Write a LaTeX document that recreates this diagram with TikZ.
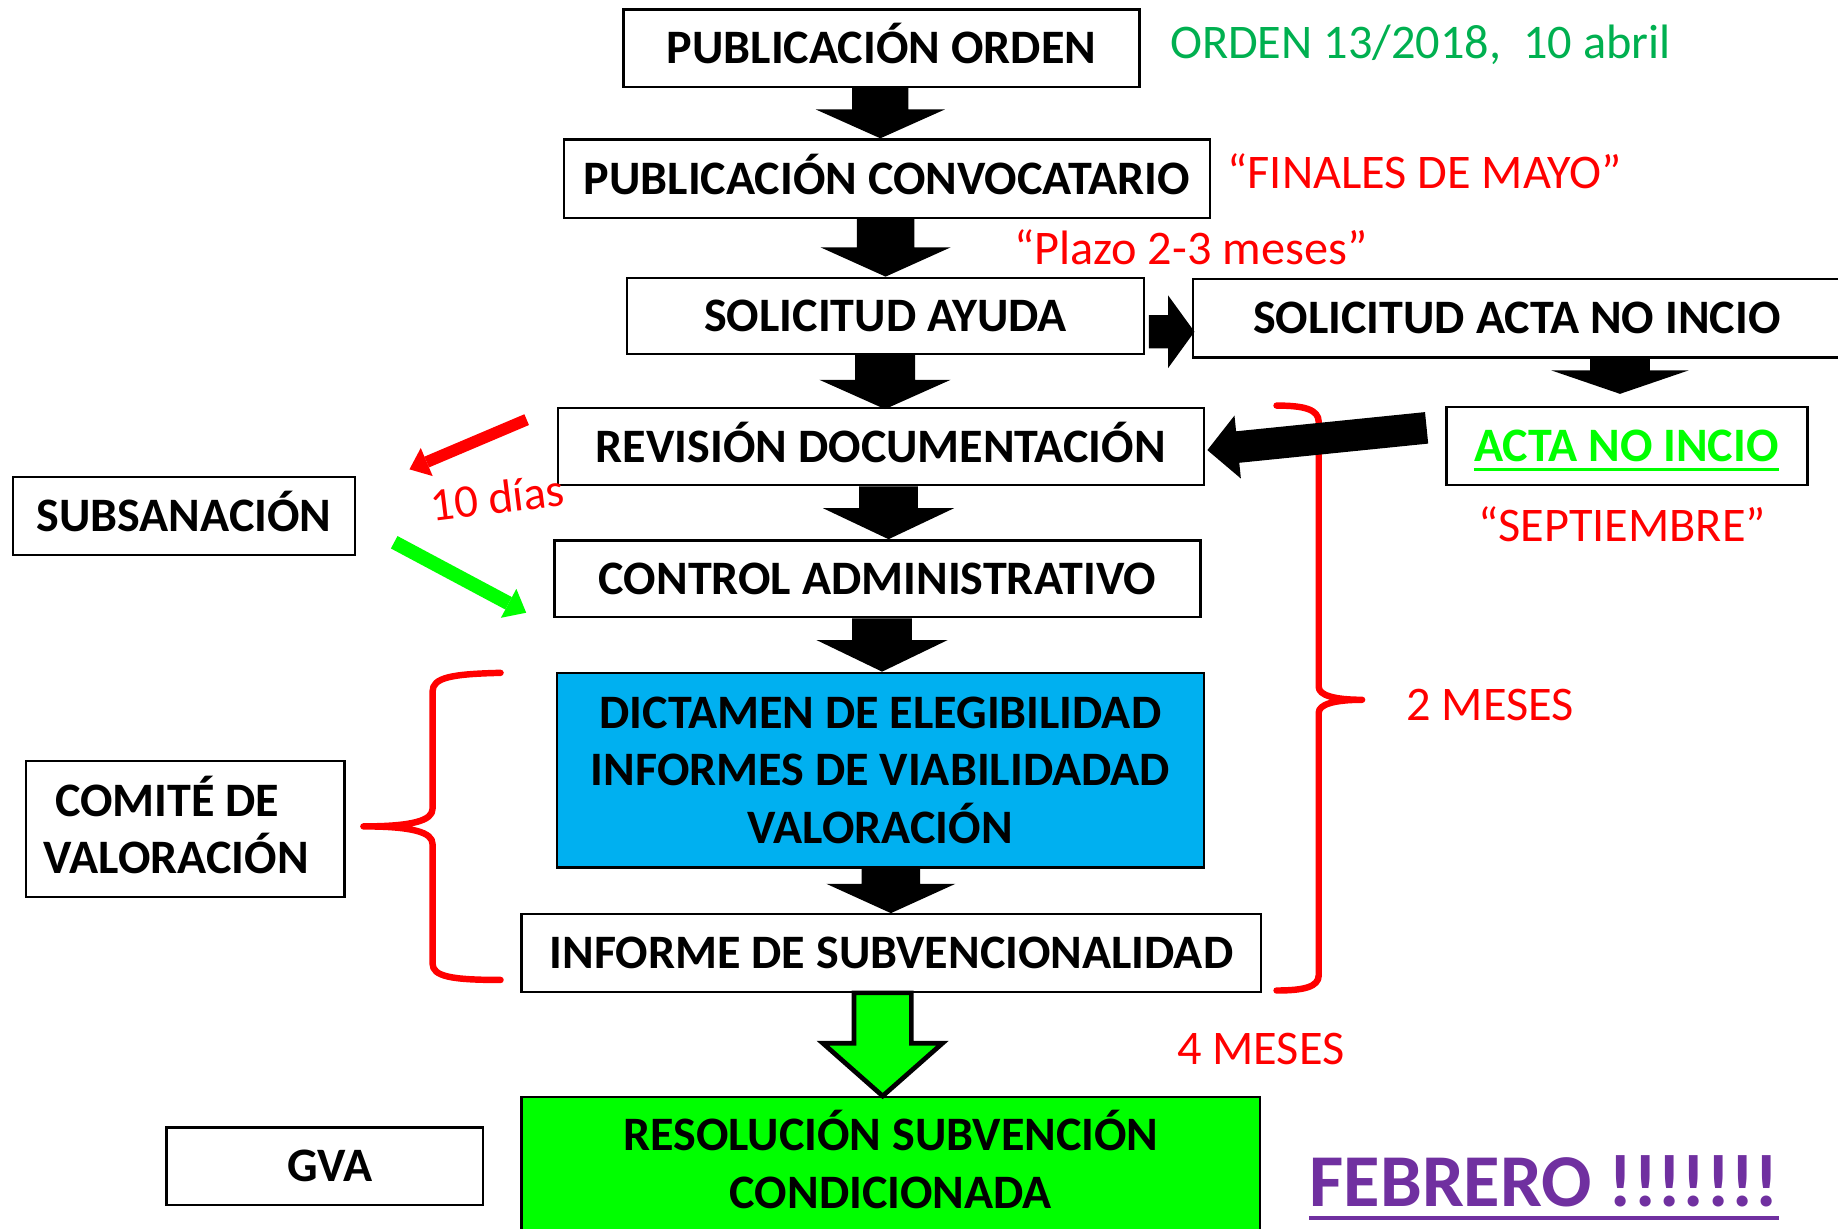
\documentclass[tikz,border=0pt]{standalone}
\usepackage{fontspec}
\setmainfont{Carlito}
\usetikzlibrary{arrows.meta,calc}
\definecolor{redT}{HTML}{FF0000}
\definecolor{greenT}{HTML}{00B050}
\definecolor{limeC}{HTML}{00FF00}
\definecolor{blueF}{HTML}{00B0F0}
\definecolor{purpleT}{HTML}{7030A0}
% vertical block arrow: #1 top coord, #2 tip coord, #3 x centre, #4 shaft half width, #5 head half width, #6 head length, #7 style
\newcommand{\blkdown}[7]{%
  \path[#7] let \p1=(#1), \p2=(#2) in
  ({#3-#4},\y1) -- ({#3+#4},\y1) -- ({#3+#4},{\y2+#6}) -- ({#3+#5},{\y2+#6})
  -- (#3,\y2) -- ({#3-#5},{\y2+#6}) -- ({#3-#4},{\y2+#6}) -- cycle;}
% horizontal block arrow: #1 left coord, #2 tip coord, #3 y centre, #4 shaft half, #5 head half, #6 head length, #7 style
\newcommand{\blkright}[7]{%
  \path[#7] let \p1=(#1), \p2=(#2) in
  (\x1,{#3+#4}) -- ({\x2-#6},{#3+#4}) -- ({\x2-#6},{#3+#5}) -- (\x2,#3)
  -- ({\x2-#6},{#3-#5}) -- ({\x2-#6},{#3-#4}) -- (\x1,{#3-#4}) -- cycle;}
\begin{document}
\begin{tikzpicture}[x=1pt,y=1pt,
  box/.style={draw=black, line width=2pt, inner sep=0pt,
    font=\fontsize{41}{49.2}\selectfont\bfseries, text height=26.4pt, text depth=0pt},
  mbox/.style={draw=black, line width=2pt, inner sep=0pt,
    font=\fontsize{41}{49.2}\selectfont\bfseries, align=center},
  btext/.style={inner sep=0pt, font=\fontsize{41}{49.2}\selectfont\bfseries},
  lbl/.style={inner sep=0pt, anchor=base west, font=\fontsize{41.2}{49}\selectfont, text=redT},
  blk/.style={fill=black},
  brace/.style={draw=redT, line width=5.5pt, line cap=round, line join=round},
]
\useasboundingbox (0,0) rectangle (1568,-1048);
\fill[white] (0,0) rectangle (1568,-1048);

% boxes
\node[box, minimum width=440pt, minimum height=66pt] (A) at (752,-41) {PUBLICACIÓN ORDEN};
\node[box, minimum width=551pt, minimum height=67pt] (B) at (756.5,-152.5) {PUBLICACIÓN CONVOCATARIO};
\node[box, minimum width=441pt, minimum height=65pt] (C) at (755.5,-269.5) {SOLICITUD AYUDA};
\node[box, minimum width=552pt, minimum height=67pt] (D) at (1294,-271.5) {SOLICITUD ACTA NO INCIO};
\node[box, minimum width=308pt, minimum height=67pt] (E) at (1388,-380.5) {};
\node[btext, text=limeC, text height=26.4pt, text depth=0pt] (Etext) at (1387.5,-380.7) {ACTA NO INCIO};
\draw[limeC, line width=2.8pt] ([yshift=-6.4pt]Etext.base west) -- ([yshift=-6.4pt]Etext.base east);
\node[box, minimum width=551pt, minimum height=66pt] (F) at (751.5,-381) {REVISIÓN DOCUMENTACIÓN};
\node[box, minimum width=292pt, minimum height=66.5pt] (G) at (157,-440.25) {SUBSANACIÓN};
\node[box, minimum width=551pt, minimum height=65.5pt] (H) at (748.5,-493.75) {CONTROL ADMINISTRATIVO};
\node[mbox, fill=blueF, minimum width=552pt, minimum height=166pt] (I) at (751,-657)
  {DICTAMEN DE ELEGIBILIDAD\\INFORMES DE VIABILIDADAD\\VALORACIÓN};
\node[box, minimum width=631pt, minimum height=66pt] (J) at (760.5,-813) {INFORME DE SUBVENCIONALIDAD};
\node[draw=black, line width=2pt, fill=limeC, inner sep=0pt, minimum width=630pt, minimum height=150pt, anchor=north] (K) at (760,-935) {};
\node[btext, align=center] (Ktext) at (760,-989) {RESOLUCIÓN SUBVENCIÓN\\CONDICIONADA};
\node[box, minimum width=270pt, minimum height=66pt] (L) at (277,-995) {\hspace*{9pt}GVA};
\node[draw=black, line width=2pt, inner sep=0pt, minimum width=272pt, minimum height=116pt] (M) at (158,-707) {};
\node[btext, align=left] (Mtext) at (150.3,-703.8) {\hspace*{9.7pt}COMITÉ DE\\VALORACIÓN};

% labels
\node[lbl, text=greenT] (orden) at (998,-49.8) {ORDEN 13/2018,~ 10 abril};
\node[lbl] (mayo) at (1047,-160.7) {“FINALES DE MAYO”};
\node[lbl] (plazo) at (865,-226) {“Plazo 2-3 meses”};
\node[lbl] (sept) at (1261,-462) {“SEPTIEMBRE”};
\node[lbl] (dosm) at (1199.6,-615) {2 MESES};
\node[lbl] (cuatrom) at (1004,-907.7) {4 MESES};
\node[lbl, rotate=7, font=\fontsize{40}{48}\selectfont] (dias) at (369,-445) {10 días};
\node[inner sep=0pt, anchor=base west, font=\fontsize{63.6}{76}\selectfont\bfseries, text=purpleT] (feb) at (1117,-1029.4) {FEBRERO !!!!!!!};
\draw[purpleT, line width=3.4pt] ([yshift=-9.6pt]feb.base west) -- ([yshift=-9.6pt]feb.base east);

% braces
\draw[brace] (427,-574) .. controls (385,-575) and (369,-578) .. (369,-590) -- (369,-690)
  .. controls (369,-700) and (352,-705) .. (310,-705)
  .. controls (352,-705) and (369,-710) .. (369,-720) -- (369,-822)
  .. controls (369,-833) and (385,-836) .. (427,-836);
\draw[brace] (1089,-346) .. controls (1112,-346) and (1125,-349) .. (1125,-360) -- (1125,-586)
  .. controls (1125,-593) and (1138,-597) .. (1162,-597)
  .. controls (1138,-597) and (1125,-601) .. (1125,-608) -- (1125,-832)
  .. controls (1125,-842) and (1112,-845) .. (1089,-845);

% block arrows
\blkdown{A.south}{B.north}{751}{24}{55}{24.6}{blk}
\blkdown{B.south}{C.north}{755.5}{24.6}{55.5}{25}{blk}
\blkdown{C.south}{[yshift=-2pt]F.north}{755}{25.6}{56}{25}{blk}
\blkdown{F.south}{H.north}{758}{25}{56}{26.5}{blk}
\blkdown{H.south}{I.north}{752.5}{25.5}{56}{27}{blk}
\blkdown{I.south}{J.north}{760}{25}{55}{25}{blk}
\blkdown{J.south}{K.north}{753}{24.5}{51}{45}{fill=limeC, draw=black, line width=4pt}
\blkdown{D.south}{[yshift=10pt]E.north}{1382}{25.5}{58.5}{20}{blk}
\blkright{[xshift=3pt]C.east}{[xshift=2pt]D.west}{-283}{14.2}{31}{22.5}{blk}

% slanted arrow from ACTA NO INCIO to REVISION
\begin{scope}[shift={([xshift=2pt,yshift=-3pt]F.east)}, rotate=5.8]
  \fill (0,0) -- (26,27) -- (26,13.5) -- (188,13.5) -- (188,-13.5) -- (26,-13.5) -- (26,-27) -- cycle;
\end{scope}

% subsanacion arrows
\coordinate (redtail) at (449.3,-358);
\coordinate (redtip) at (349.3,-400.4);
\coordinate (greentail) at (336.3,-462.6);
\coordinate (greentip) at (448.9,-522.7);
\draw[redT, line width=10pt, -{Triangle[length=16pt,width=26pt,line width=0pt]}] (redtail) -- (redtip);
\draw[limeC, line width=12pt, -{Triangle[length=17pt,width=28pt,line width=0pt]}] (greentail) -- (greentip);
\end{tikzpicture}
\end{document}
